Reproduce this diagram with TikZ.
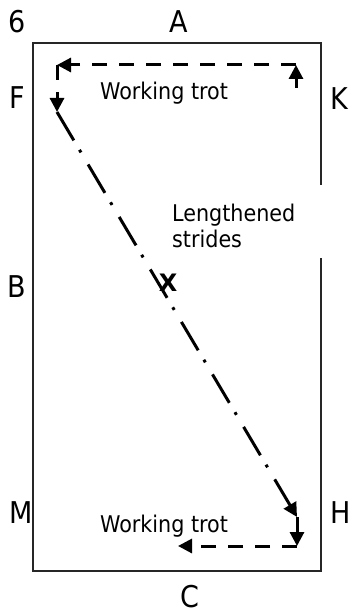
\documentclass[tikz,border=0pt]{standalone}
\usepackage{fontspec}
\setmainfont{DejaVu Sans}
\newfontfamily\narrowfont{DejaVu Sans Condensed}
\usetikzlibrary{arrows.meta,positioning}

\begin{document}
\begin{tikzpicture}[
  x=1pt, y=-1pt,
  letter/.style={anchor=base, inner sep=0pt, font=\narrowfont\fontsize{30}{32}\selectfont},
  caption/.style={anchor=base west, inner sep=0pt, align=left, font=\narrowfont\fontsize{23}{26}\selectfont},
  arena/.style={draw=black!85, line width=1.5pt},
  trot/.style={-{Triangle[length=14pt,width=14pt]}, line width=3pt, dash pattern=on 15pt off 12pt},
  stride/.style={-{Triangle[length=14pt,width=14pt]}, line width=3pt, dash pattern=on 33pt off 11pt on 3pt off 14pt}
]
\useasboundingbox (0,0) rectangle (351,615);
\draw[arena] (33,43) rectangle (321,571);
\fill[white] (170,185) rectangle (323,258);

\coordinate (kstart) at (296,88);
\coordinate (kcorner) at (296,65);
\coordinate (fcorner) at (57,65);
\coordinate (fend) at (57,112);
\coordinate (hend) at (297,517);
\coordinate (hcorner) at (297,546);
\coordinate (cend) at (178,546);

\draw[trot] (kstart) -- (kcorner);
\draw[trot] (kcorner) -- (fcorner);
\draw[trot] (fcorner) -- (fend);
\draw[stride] (fend) -- (hend);
\draw[trot] (hend) -- (hcorner);
\draw[trot] (hcorner) -- (cend);

\node[letter] (six) at (17,33) {6};
\node[letter] (a) at (179,33) {A};
\node[letter] (f) at (17,109) {F};
\node[letter] (k) at (339,110) {K};
\node[letter] (b) at (17,297) {B};
\node[letter] (m) at (21,523) {M};
\node[letter] (h) at (341,523) {H};
\node[letter] (c) at (190,607) {C};
\node[anchor=base, inner sep=0pt, font=\bfseries\fontsize{24}{26}\selectfont] (x) at (168,291) {X};

\node[caption] (trottop) at (100,100) {Working trot};
\node[caption] (trotbottom) at (100,532) {Working trot};
\node[caption] (strides) at (172,247) {Lengthened\\strides};
\end{tikzpicture}
\end{document}
